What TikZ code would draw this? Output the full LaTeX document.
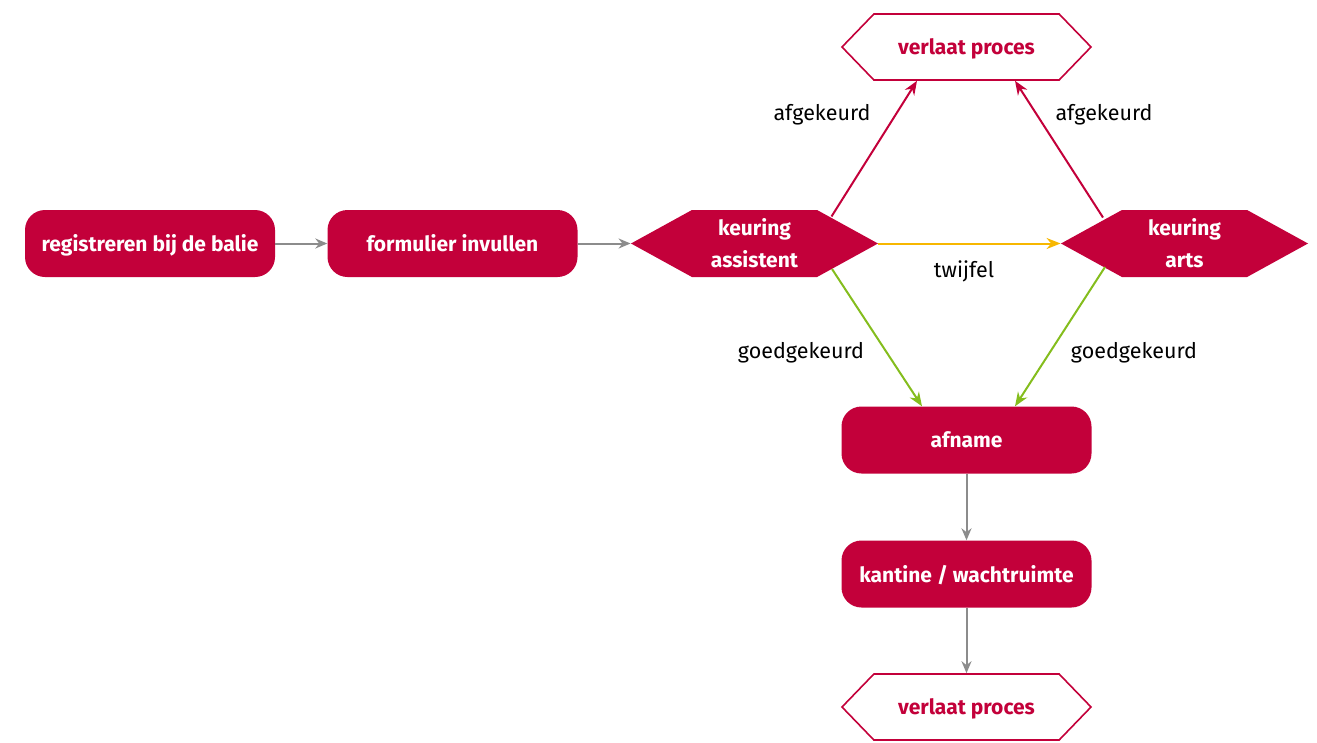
\documentclass[tikz,border=0pt]{standalone}
\usepackage{fontspec}
\setmainfont{Fira Sans}
\usetikzlibrary{shapes.symbols,arrows.meta}
\definecolor{crim}{RGB}{195,0,58}
\definecolor{grn}{RGB}{132,189,29}
\definecolor{ylw}{RGB}{247,183,0}
\definecolor{gry}{RGB}{140,140,140}
\begin{document}
\begin{tikzpicture}[x=1pt,y=-1pt,
  stepbox/.style={rectangle,rounded corners=20pt,fill=crim,text=white,font=\bfseries\fontsize{21}{25}\selectfont,minimum width=250pt,minimum height=67pt,inner sep=0pt,text depth=1pt},
  hexbox/.style={signal,signal to=east and west,signal pointer angle=57.6,fill=crim,text=white,font=\bfseries\fontsize{21}{32}\selectfont,minimum width=247pt,minimum height=67pt,inner sep=0pt,align=center},
  exitbox/.style={signal,signal to=east and west,signal pointer angle=92,draw=crim,line width=1.6pt,fill=white,text=crim,font=\bfseries\fontsize{21}{25}\selectfont,minimum width=249pt,minimum height=66pt,inner sep=0pt,text depth=1pt},
  lbl/.style={font=\fontsize{21.5}{25}\selectfont,text=black,inner sep=0pt},
  garrow/.style={draw=gry,line width=2pt,-{Stealth[length=12pt,width=10pt]}},
  rarrow/.style={draw=crim,line width=2pt,-{Stealth[length=14pt,width=11pt]}},
  yarrow/.style={draw=ylw,line width=2pt,-{Stealth[length=14pt,width=11pt]}},
  narrow/.style={draw=grn,line width=2pt,-{Stealth[length=14pt,width=11pt]}}]
\useasboundingbox (0,0) rectangle (1317,742);
\node[stepbox] (reg) at (150,243.5) {registreren bij de balie};
\node[stepbox] (form) at (452.5,243.5) {formulier invullen};
\node[hexbox] (ka) at (754.5,243.5) {keuring\\assistent};
\node[hexbox] (arts) at (1184.5,243.5) {keuring\\arts};
\node[exitbox] (vp1) at (966.5,47) {verlaat proces};
\node[stepbox] (af) at (966.5,440) {afname};
\node[stepbox] (kant) at (966.5,574) {kantine / wachtruimte};
\node[exitbox] (vp2) at (966.5,707) {verlaat proces};
\draw[garrow] (reg.east) -- (form.west);
\draw[garrow] (form.east) -- (ka.west);
\draw[rarrow] ([shift={(77,-27)}]ka.center) -- ([xshift=-49.5pt]vp1.south);
\draw[rarrow] ([shift={(-81.5,-26)}]arts.center) -- ([xshift=48.5pt]vp1.south);
\draw[yarrow] (ka.east) -- (arts.west);
\draw[narrow] ([shift={(77.5,25.5)}]ka.center) -- ([xshift=-44.5pt]af.north);
\draw[narrow] ([shift={(-79.5,23.5)}]arts.center) -- ([xshift=48.5pt]af.north);
\draw[garrow] (af.south) -- (kant.north);
\draw[garrow] (kant.south) -- (vp2.north);
\node[lbl] (l1) at (822,115) {afgekeurd};
\node[lbl] (l2) at (1104,115) {afgekeurd};
\node[lbl] (l3) at (964,271) {twijfel};
\node[lbl] (l4) at (801,353) {goedgekeurd};
\node[lbl] (l5) at (1134,353) {goedgekeurd};
\end{tikzpicture}
\end{document}
